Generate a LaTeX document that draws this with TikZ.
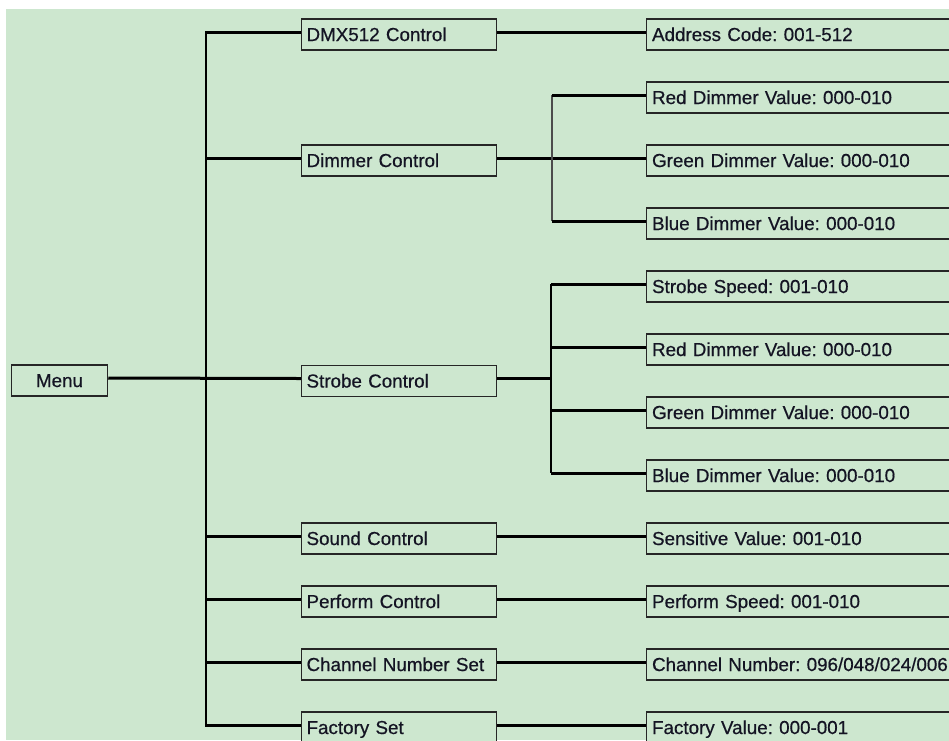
\documentclass[tikz,border=0pt]{standalone}
\usepackage{fontspec}
\setmainfont[FakeBold=0.6]{Liberation Sans}
\definecolor{bg}{RGB}{205,231,207}
\definecolor{ink}{RGB}{20,20,35}
\begin{document}
\frenchspacing
\begin{tikzpicture}[x=1pt,y=-1pt,
  box/.style={draw=black!85, line width=1.5pt, fill=bg, rectangle,
    minimum height=31pt, inner ysep=0pt, text height=17pt, text depth=4pt,
    font=\fontsize{18.8}{22}\selectfont\frenchspacing, text=ink},
  lone/.style={box, text width=185pt, inner xsep=5pt, align=left, anchor=west},
  ltwo/.style={box, text width=330pt, inner xsep=5.5pt, align=left, anchor=west},
  hline/.style={line width=3pt, black},
  vline/.style={line width=2pt, black},
  vthin/.style={line width=1.6pt, black!70}]
\useasboundingbox (0,0) rectangle (949,740);
\clip (0,0) rectangle (949,740);
\fill[white] (0,0) rectangle (949,740);
\fill[bg] (6,9) rectangle (949,740);

% root
\node[box, minimum width=96pt, inner xsep=0pt] (menu) at (59.5,380.5) {Menu};

% level 1
\node[lone] (dmx)     at (300.8,34.5)  {DMX512 Control};
\node[lone] (dim)     at (300.8,160.5) {Dimmer Control};
\node[lone] (strobe)  at (300.8,381)   {Strobe Control};
\node[lone] (sound)   at (300.8,538.5) {Sound Control};
\node[lone] (perform) at (300.8,601.5) {Perform Control};
\node[lone] (chan)    at (300.8,664.5) {Channel Number Set};
\node[lone] (fact)    at (300.8,727.5) {Factory Set};

% level 2
\node[ltwo] (addr)   at (645.8,34.5)  {Address Code: 001-512};
\node[ltwo] (rd1)    at (645.8,97.5)  {Red Dimmer Value: 000-010};
\node[ltwo] (gd1)    at (645.8,160.5) {Green Dimmer Value: 000-010};
\node[ltwo] (bd1)    at (645.8,223.5) {Blue Dimmer Value: 000-010};
\node[ltwo] (ss)     at (645.8,286.5) {Strobe Speed: 001-010};
\node[ltwo] (rd2)    at (645.8,349.5) {Red Dimmer Value: 000-010};
\node[ltwo] (gd2)    at (645.8,412.5) {Green Dimmer Value: 000-010};
\node[ltwo] (bd2)    at (645.8,475.5) {Blue Dimmer Value: 000-010};
\node[ltwo] (sens)   at (645.8,538.5) {Sensitive Value: 001-010};
\node[ltwo] (pspeed) at (645.8,601.5) {Perform Speed: 001-010};
\node[ltwo] (chnum)  at (645.8,664.5) {Channel Number: 096/048/024/006};
\node[ltwo] (fval)   at (645.8,727.5) {Factory Value: 000-001};

% trunk
\coordinate (tt) at (206,32);
\coordinate (tb) at (206,725);
\draw[vline] (tt) -- (tb);
\draw[hline] ([yshift=2.5pt]menu.east) -- ([yshift=2.5pt]strobe.west);
\foreach \n in {dmx,dim,sound,perform,chan,fact}
  \draw[hline] ([yshift=2.5pt]\n.west) -- ++(-96,0);

% one-to-one links
\foreach \a/\b in {dmx/addr,dim/gd1,sound/sens,perform/pspeed,chan/chnum,fact/fval}
  \draw[hline] ([yshift=2.5pt]\a.east) -- ([yshift=2.5pt]\b.west);

% dimmer branch
\coordinate (d1) at (552,95);
\coordinate (d2) at (552,221);
\draw[vthin] (d1) -- (d2);
\draw[hline] (d1) -- ([yshift=2.5pt]rd1.west);
\draw[hline] (d2) -- ([yshift=2.5pt]bd1.west);

% strobe branch
\coordinate (s0) at (551,378.5);
\coordinate (s1) at (551,284);
\coordinate (s2) at (551,473);
\draw[vline] (s1) -- (s2);
\draw[hline] ([yshift=2.5pt]strobe.east) -- (s0);
\foreach \n in {ss,rd2,gd2,bd2}
  \draw[hline] ([yshift=2.5pt]\n.west) -- ++(-94.8,0);
\end{tikzpicture}
\end{document}
